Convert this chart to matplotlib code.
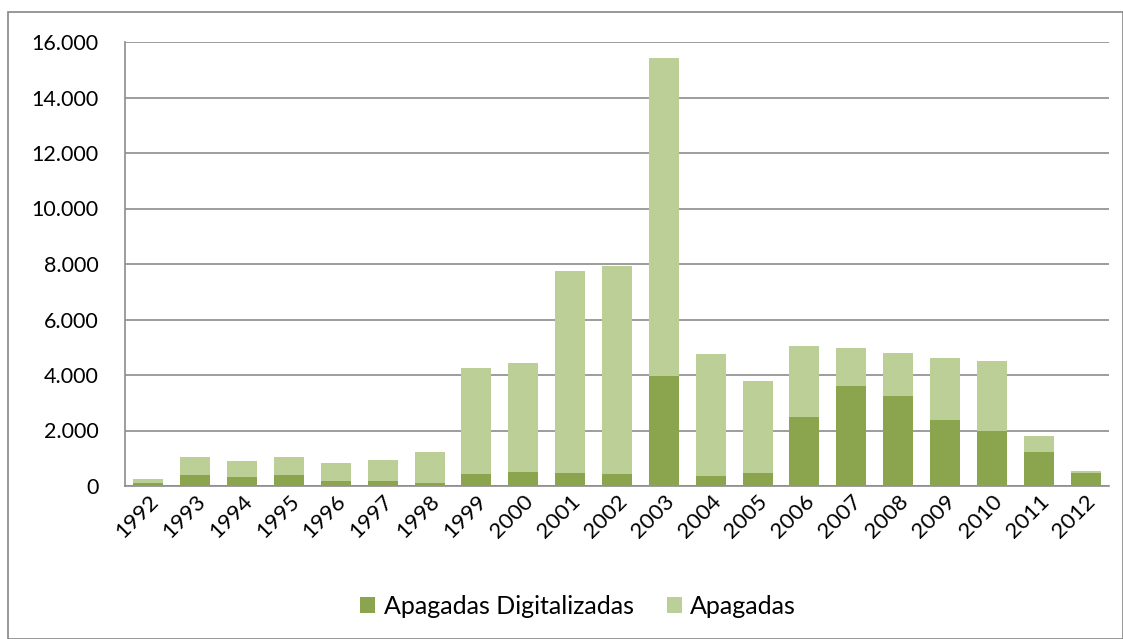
import matplotlib.pyplot as plt
import matplotlib.ticker as mticker
from matplotlib.patches import Rectangle
import numpy as np

years = ['1992', '1993', '1994', '1995', '1996', '1997', '1998', '1999', '2000', '2001', '2002',
         '2003', '2004', '2005', '2006', '2007', '2008', '2009', '2010', '2011', '2012']
digitalizadas = [120, 385, 335, 385, 190, 170, 120, 430, 500, 470, 430,
                 3950, 370, 470, 2490, 3590, 3260, 2380, 2000, 1210, 480]
totales = [250, 1030, 910, 1050, 840, 945, 1220, 4270, 4450, 7760, 7930,
           15430, 4770, 3770, 5030, 4990, 4780, 4600, 4490, 1800, 530]
apagadas = [t - d for t, d in zip(totales, digitalizadas)]

plt.rcParams['font.family'] = ['Lato', 'DejaVu Sans']

fig = plt.figure(figsize=(11.23, 6.39), dpi=100)
fig.patches.append(Rectangle((8 / 1123, 0.0), 1 - 8 / 1123, 1 - 12 / 639,
                             transform=fig.transFigure, fill=False,
                             edgecolor='#868686', linewidth=1.2))
ax = fig.add_axes([125 / 1123, 1 - 486 / 639, 984 / 1123, 444 / 639])

x = np.arange(len(years))
ax.bar(x, digitalizadas, width=0.64, color='#8ba54f', label='Apagadas Digitalizadas', zorder=3)
ax.bar(x, apagadas, width=0.64, bottom=digitalizadas, color='#bbcf97',
       label='Apagadas', zorder=3)

ax.set_xlim(-0.5, len(years) - 0.5)
ax.set_ylim(0, 16000)
ax.yaxis.set_major_locator(mticker.MultipleLocator(2000))
ax.yaxis.set_major_formatter(mticker.FuncFormatter(lambda v, p: f'{int(v):,}'.replace(',', '.')))
ax.grid(axis='y', color='#8c8c8c', linewidth=1.2, zorder=0)
ax.set_xticks(x)
ax.set_xticklabels(years, rotation=45, ha='right', rotation_mode='anchor')
ax.tick_params(axis='x', length=0, labelsize=16, pad=4)
ax.tick_params(axis='y', length=0, labelsize=15.5, pad=19)
for s in ['top', 'right']:
    ax.spines[s].set_visible(False)
for s in ['left', 'bottom']:
    ax.spines[s].set_color('#8c8c8c')
    ax.spines[s].set_linewidth(1.2)

fig.legend(loc='center', bbox_to_anchor=(0.515, 1 - 606 / 639), ncol=2, frameon=False,
           fontsize=18, handlelength=0.6, handleheight=0.6, columnspacing=1.3,
           handletextpad=0.35)

fig.savefig('out.png', dpi=100)
